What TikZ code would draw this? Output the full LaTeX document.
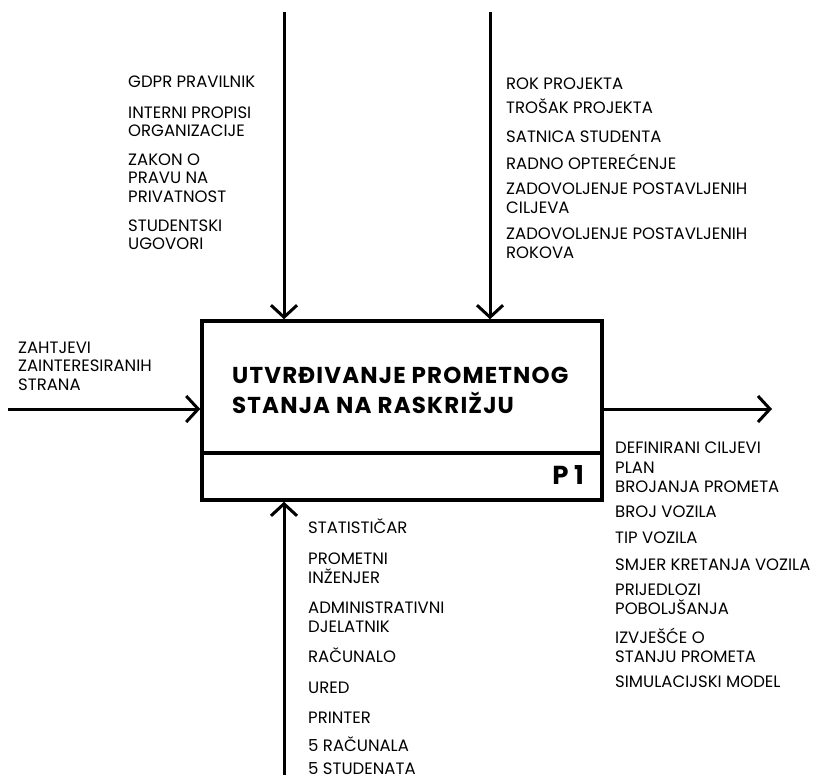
\documentclass[tikz,border=0pt]{standalone}
\usepackage{fontspec}
\setmainfont{Poppins}
\usetikzlibrary{arrows.meta}

\tikzset{
    lbl/.style={anchor=base west, align=left, inner sep=0pt, font=\fontsize{16.5}{18.5}\selectfont},
    flow/.style={line width=3pt, -{Straight Barb[length=12pt, width=26pt]}},
    procbox/.style={draw, line width=3.5pt, minimum width=400pt, minimum height=179pt, inner sep=0pt},
}

\begin{document}
\begin{tikzpicture}[x=1pt, y=-1pt]
    \useasboundingbox (0,0) rectangle (821,780);

    % Activity box (multi-line labels sit on the baseline of their last line)
    \node[procbox] (proc) at (402,410.5) {};
    \coordinate (div) at (0,453);
    \draw[line width=3.5pt] (proc.west |- div) -- (proc.east |- div);
    \node[anchor=base west, inner sep=0pt, align=left, font=\fontsize{23}{30}\selectfont\bfseries\addfontfeatures{LetterSpace=5}] (title) at (232,413) {UTVRĐIVANJE PROMETNOG\\STANJA NA RASKRIŽJU};
    \node[anchor=base east, inner sep=0pt, font=\fontsize{26}{26}\selectfont\bfseries] (pnum) at (584,484) {P 1};

    % Controls
    \coordinate (ctlA) at (284,12);
    \coordinate (ctlB) at (490,12);
    \draw[flow] (ctlA) -- (ctlA |- proc.north);
    \draw[flow] (ctlB) -- (ctlB |- proc.north);

    \node[lbl] (gdpr) at (128,87) {GDPR PRAVILNIK};
    \node[lbl] (propisi) at (128,136.5) {INTERNI PROPISI\\ORGANIZACIJE};
    \node[lbl] (zakon) at (128,202) {ZAKON O\\PRAVU NA\\PRIVATNOST};
    \node[lbl] (ugovori) at (128,249.5) {STUDENTSKI\\UGOVORI};

    \node[lbl] (rok) at (506,89) {ROK PROJEKTA};
    \node[lbl] (trosak) at (506,113) {TROŠAK PROJEKTA};
    \node[lbl] (satnica) at (506,142) {SATNICA STUDENTA};
    \node[lbl] (radno) at (506,169) {RADNO OPTEREĆENJE};
    \node[lbl] (ciljevi) at (506,213) {ZADOVOLJENJE POSTAVLJENIH\\CILJEVA};
    \node[lbl] (rokovi) at (506,258) {ZADOVOLJENJE POSTAVLJENIH\\ROKOVA};

    % Input
    \coordinate (inp) at (8,409);
    \draw[flow] (inp) -- (inp -| proc.west);
    \node[lbl] (zahtjevi) at (18,390) {ZAHTJEVI\\ZAINTERESIRANIH\\STRANA};

    % Output
    \coordinate (outp) at (772,409);
    \draw[flow] (proc.east |- outp) -- (outp);
    \node[lbl] (definirani) at (615,453) {DEFINIRANI CILJEVI};
    \node[lbl] (plan) at (615,492) {PLAN\\BROJANJA PROMETA};
    \node[lbl] (brojvoz) at (615,517) {BROJ VOZILA};
    \node[lbl] (tipvoz) at (615,543) {TIP VOZILA};
    \node[lbl] (smjer) at (615,570) {SMJER KRETANJA VOZILA};
    \node[lbl] (prijedlozi) at (615,614) {PRIJEDLOZI\\POBOLJŠANJA};
    \node[lbl] (izvjesce) at (615,662) {IZVJEŠĆE O\\STANJU PROMETA};
    \node[lbl] (simmodel) at (615,687) {SIMULACIJSKI MODEL};

    % Mechanisms
    \coordinate (mech) at (284,775);
    \draw[flow] (mech) -- (mech |- proc.south);
    \node[lbl] (statisticar) at (308,533) {STATISTIČAR};
    \node[lbl] (inzenjer) at (308,583) {PROMETNI\\INŽENJER};
    \node[lbl] (djelatnik) at (308,632) {ADMINISTRATIVNI\\DJELATNIK};
    \node[lbl] (racunalo) at (308,662) {RAČUNALO};
    \node[lbl] (ured) at (308,693) {URED};
    \node[lbl] (printer) at (308,723) {PRINTER};
    \node[lbl] (racunala) at (308,751) {5 RAČUNALA};
    \node[lbl] (studenti) at (308,774) {5 STUDENATA};
\end{tikzpicture}
\end{document}
